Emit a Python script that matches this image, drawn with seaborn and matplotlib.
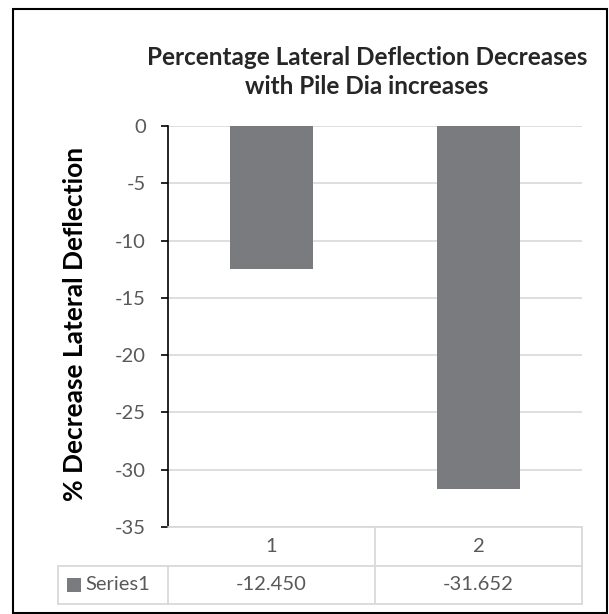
import matplotlib
matplotlib.use("Agg")
import matplotlib.pyplot as plt
import seaborn as sns
import pandas as pd
from matplotlib.patches import Rectangle
from matplotlib.lines import Line2D

categories = ["1", "2"]
values = [-12.450, -31.652]
series_name = "Series1"
yticks = [0, -5, -10, -15, -20, -25, -30, -35]
title = "Percentage Lateral Deflection Decreases\nwith Pile Dia increases"
ylabel = "% Decrease Lateral Deflection"

sns.set_theme(style="white")
plt.rcParams["font.family"] = ["Lato", "DejaVu Sans"]

W, H = 609, 614
fig = plt.figure(figsize=(W / 100, H / 100), dpi=100)

def fx(px):
    return px / W

def fy(py):
    return 1 - py / H

bar_color = "#7a7b7f"
text_gray = "#595959"
grid_gray = "#d9d9d9"
fs = 14.5

ax_left, ax_right, ax_top, ax_bot = 168, 582, 126, 527
ax = fig.add_axes([fx(ax_left), fy(ax_bot), fx(ax_right - ax_left), fy(ax_top) - fy(ax_bot)])

df = pd.DataFrame({"cat": categories, "val": values})
sns.barplot(data=df, x="cat", y="val", color=bar_color, saturation=1, width=0.4, ax=ax, zorder=3)
ax.set_xlim(-0.5, 1.5)
ax.set_ylim(-35, 0)
ax.set_yticks(yticks)
ax.set_yticklabels([str(t) for t in yticks], color=text_gray, fontsize=fs)
ax.yaxis.grid(True, color=grid_gray, linewidth=1.2, zorder=0)
ax.set_axisbelow(True)
ax.set_xticks([])
ax.set_xlabel("")
ax.set_ylabel("")
for s in ["top", "right", "bottom"]:
    ax.spines[s].set_visible(False)
ax.spines["left"].set_color("#000000")
ax.spines["left"].set_linewidth(1.2)
ax.tick_params(axis="y", left=True, length=5, width=1.2, color="#000000", pad=11, direction="out")
for p in ax.patches:
    p.set_edgecolor("none")

# title and y label
fig.text(fx(367), fy(72), title, ha="center", va="center", fontsize=17.5,
         fontweight="bold", color="#262626", linespacing=1.3)
fig.text(fx(75), fy(324), ylabel, ha="center", va="center", rotation=90,
         fontsize=19, fontweight="bold", color="#000000")

# data table
row1_top, row1_bot, row2_bot = 527, 566, 604
col_edges = [ax_left, (ax_left + ax_right) / 2, ax_right]
label_left = 58
lc = grid_gray
lw = 1.3
def hline(x0, x1, y):
    fig.add_artist(Line2D([fx(x0), fx(x1)], [fy(y), fy(y)], color=lc, lw=lw))
def vline(x, y0, y1):
    fig.add_artist(Line2D([fx(x), fx(x)], [fy(y0), fy(y1)], color=lc, lw=lw))

hline(ax_left, ax_right, row1_top)
hline(label_left, ax_right, row1_bot)
hline(label_left, ax_right, row2_bot)
for x in col_edges[1:]:
    vline(x, row1_top, row2_bot)
vline(ax_left, row1_bot, row2_bot)
vline(label_left, row1_bot, row2_bot)

for i, (c, v) in enumerate(zip(categories, values)):
    xc = (col_edges[i] + col_edges[i + 1]) / 2
    fig.text(fx(xc), fy((row1_top + row1_bot) / 2), c, ha="center", va="center",
             fontsize=fs, color=text_gray)
    fig.text(fx(xc), fy((row1_bot + row2_bot) / 2), f"{v:.3f}", ha="center", va="center",
             fontsize=fs, color=text_gray)

ymid = (row1_bot + row2_bot) / 2
fig.add_artist(Rectangle((fx(67), fy(ymid + 7)), fx(14), fy(ymid - 7) - fy(ymid + 7),
                         facecolor=bar_color, edgecolor="none", transform=fig.transFigure))
fig.text(fx(85), fy(ymid), series_name, ha="left", va="center", fontsize=fs, color=text_gray)

# outer border
fig.add_artist(Rectangle((fx(13), fy(613)), fx(607 - 13), fy(9) - fy(613), facecolor="none",
                         edgecolor="#000000", linewidth=1.5, transform=fig.transFigure))

fig.savefig("out.png", dpi=100)
